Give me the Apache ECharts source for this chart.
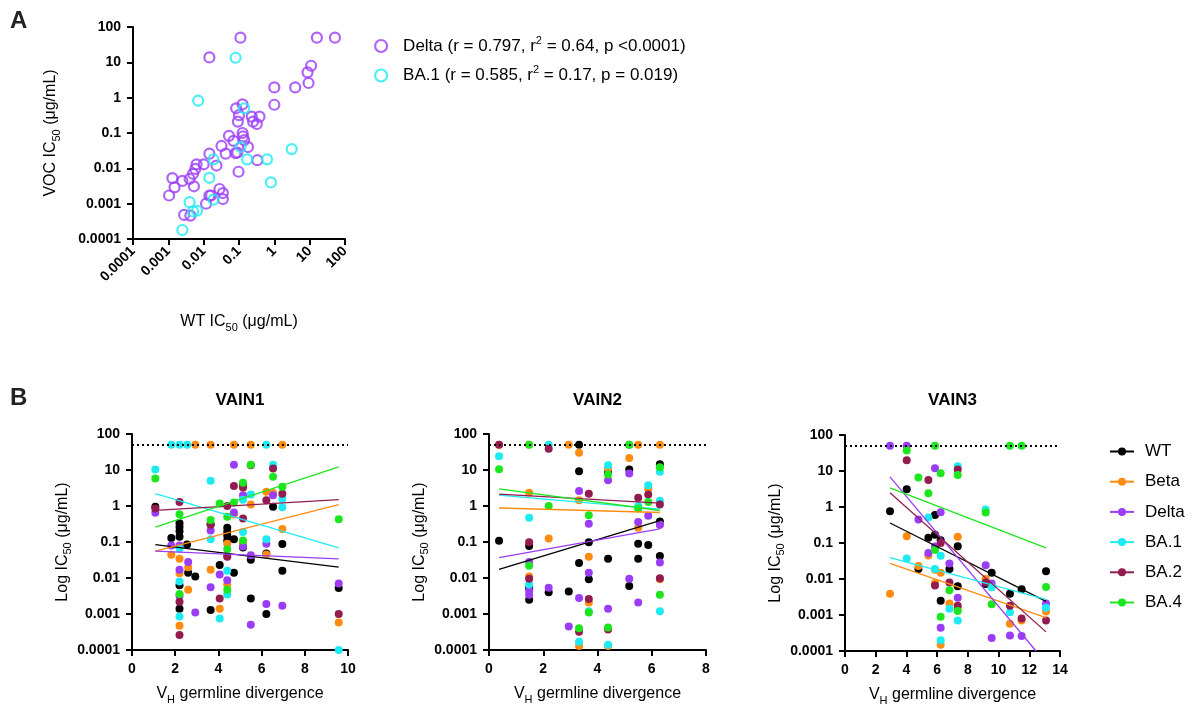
<!DOCTYPE html>
<html>
<head>
<meta charset="utf-8">
<script src="https://cdn.jsdelivr.net/npm/echarts@6/dist/echarts.min.js"></script>
<style>
html,body{margin:0;padding:0;background:#fff;}
#chart{width:1193px;height:709px;}
</style>
</head>
<body>
<div id="chart"></div>
<script>
// ---------- Panel A data: [WT IC50, VOC IC50] ----------
const panelA_Delta = [
  [0.11,50],[16,50],[52,50],[0.0145,13.8],[11,8],[8.7,5.2],[9.3,2.6],[1.0,1.95],[3.9,1.95],
  [1.0,0.63],[0.126,0.65],[0.083,0.5],[0.1,0.32],[0.093,0.21],[0.23,0.29],[0.38,0.29],[0.25,0.21],
  [0.32,0.18],[0.126,0.1],[0.13,0.08],[0.14,0.063],[0.052,0.083],[0.07,0.06],[0.032,0.043],
  [0.042,0.026],[0.08,0.027],[0.09,0.028],[0.18,0.04],[0.33,0.017],[0.097,0.008],[0.0145,0.026],
  [0.023,0.012],[0.01,0.013],[0.0063,0.013],[0.0058,0.0096],[0.005,0.007],[0.004,0.005],
  [0.0025,0.0044],[0.0013,0.0053],[0.0015,0.0029],[0.00105,0.0017],[0.0053,0.0031],
  [0.0028,0.00048],[0.0042,0.00046],[0.0117,0.001],[0.0162,0.0017],[0.028,0.0026],
  [0.035,0.002],[0.035,0.00135],[0.0145,0.0017]
];
const panelA_BA1 = [
  [0.08,13.5],[0.007,0.82],[0.14,0.5],[3.1,0.035],[0.62,0.018],[0.17,0.018],[0.11,0.04],
  [0.019,0.018],[0.0145,0.0054],[0.8,0.004],[0.004,0.0011],[0.0065,0.00063],[0.005,0.0006],
  [0.019,0.0013],[0.0025,0.00018]
];
const panelA_legend = ['Delta (r = 0.797, r|2| = 0.64, p <0.0001)', 'BA.1 (r = 0.585, r|2| = 0.17, p = 0.019)'];

// ---------- Panel B data: [VH germline divergence, IC50] ----------
const variants = ['WT','Beta','Delta','BA.1','BA.2','BA.4'];
const panelTitles = ['VAIN1','VAIN2','VAIN3'];
const xMaxima = [10, 8, 14];
const logTicks = [0.0001, 0.001, 0.01, 0.1, 1, 10, 100];
const cutoff = 50;

const vain1_WT = [[1.08,0.95],[1.82,0.13],[2.2,0.33],[2.2,0.26],[2.2,0.2],[2.2,0.14],[2.2,0.0063],[2.2,0.0014],[2.55,0.085],[2.6,0.014],[2.93,0.011],[3.64,0.31],[3.64,0.0013],[4.06,0.023],[4.41,0.25],[4.41,0.19],[4.41,0.15],[4.41,0.11],[4.72,0.12],[4.72,0.014],[5.14,4.0],[5.14,0.07],[5.5,0.032],[5.5,0.0027],[6.22,0.048],[6.22,0.001],[6.53,0.95],[6.96,0.088],[6.96,0.016],[9.57,0.0053]];
const vain1_Beta = [[1.82,0.044],[2.2,0.034],[2.2,0.0135],[2.2,0.00047],[2.6,0.02],[2.6,0.0047],[2.93,50],[3.64,50],[3.64,0.017],[4.06,0.0014],[4.41,0.09],[4.41,0.0066],[4.72,50],[4.72,0.58],[5.14,3.2],[5.14,0.09],[5.5,50],[5.5,1.1],[6.22,2.5],[6.22,0.045],[6.53,2.3],[6.96,50],[6.96,0.23],[9.57,0.00058]];
const vain1_Delta = [[1.08,0.65],[1.82,0.08],[2.2,0.08],[2.2,0.017],[2.2,0.0032],[2.6,0.028],[2.93,0.0011],[3.64,0.21],[3.64,0.0055],[4.06,0.0126],[4.41,0.0087],[4.41,0.04],[4.72,14],[4.72,0.66],[5.14,2.0],[5.14,0.075],[5.5,0.043],[5.5,0.0005],[6.22,0.09],[6.22,0.0019],[6.53,2.0],[6.96,0.0017],[9.57,0.007]];
const vain1_BA1 = [[1.08,10.3],[1.82,50],[2.2,50],[2.2,0.066],[2.2,0.008],[2.2,0.00085],[2.56,50],[3.64,5.0],[3.64,0.12],[4.06,0.00075],[4.41,0.016],[4.41,0.0035],[5.14,1.5],[5.14,0.19],[5.5,2.1],[6.22,50],[6.22,0.12],[6.53,14],[6.96,1.6],[6.96,0.92],[9.57,0.0001]];
const vain1_BA2 = [[1.08,0.85],[2.2,1.3],[2.2,0.0022],[2.2,0.00026],[3.64,0.3],[4.06,0.0027],[4.41,1.0],[4.41,0.039],[4.72,3.6],[5.14,3.3],[5.14,0.45],[5.5,13.5],[6.22,1.45],[6.53,11],[6.96,2.2],[9.57,0.001]];
const vain1_BA4 = [[1.08,5.8],[2.2,0.59],[2.2,0.0036],[3.64,0.41],[4.06,1.17],[4.41,0.5],[4.41,0.063],[4.41,0.0047],[4.72,1.25],[5.14,4.4],[5.14,0.11],[5.5,14],[6.53,6.5],[6.96,3.4],[9.57,0.43]];

const vain2_WT = [[0.37,0.108],[1.48,0.078],[1.48,0.0052],[1.48,0.0025],[2.2,0.004],[2.94,0.0042],[3.32,50],[3.32,9.3],[3.32,0.026],[3.68,0.098],[3.68,0.0093],[4.39,8.5],[4.39,0.034],[5.17,10.3],[5.17,0.006],[5.5,0.09],[5.5,0.034],[5.87,0.083],[6.3,14.5],[6.3,0.37],[6.3,0.041]];
const vain2_Beta = [[0.37,50],[1.48,50],[1.48,2.35],[1.48,0.011],[2.2,0.126],[2.94,50],[3.32,30],[3.32,1.45],[3.32,0.00013],[3.68,0.039],[3.68,0.0021],[4.39,11],[4.39,0.00013],[5.17,50],[5.17,21.6],[5.5,50],[5.5,0.25],[5.87,3.0],[6.3,50],[6.3,0.3],[6.3,0.0093]];
const vain2_Delta = [[1.48,0.028],[1.48,0.0045],[1.48,0.0034],[2.2,0.0054],[2.94,0.00045],[3.32,2.6],[3.32,0.0028],[3.68,0.32],[3.68,0.014],[4.39,5.2],[4.39,0.0014],[5.17,8],[5.17,0.0095],[5.5,0.36],[5.5,0.0021],[5.87,0.54],[6.3,0.3],[6.3,0.027]];
const vain2_BA1 = [[0.37,24],[1.48,0.47],[1.48,0.0066],[2.2,50],[3.32,0.00017],[3.68,0.0012],[4.39,13.5],[4.39,0.00014],[5.17,50],[5.5,1.0],[5.87,3.8],[6.3,9],[6.3,1.4],[6.3,0.0012]];
const vain2_BA2 = [[0.37,50],[1.48,0.098],[1.48,0.0095],[2.2,39],[3.32,0.00032],[3.68,2.2],[3.68,0.0026],[4.39,0.00037],[5.5,1.7],[5.87,2.1],[6.3,1.1],[6.3,0.0098]];
const vain2_BA4 = [[0.37,10.5],[1.48,50],[1.48,0.022],[2.2,1.0],[3.32,0.0004],[3.68,0.55],[3.68,0.0011],[4.39,7.5],[4.39,0.00042],[5.17,50],[5.5,0.85],[5.87,1.3],[6.3,12],[6.3,0.0034]];

const vain3_WT = [[2.93,0.76],[4.02,3.1],[4.78,0.019],[5.43,0.14],[5.86,0.6],[5.86,0.17],[6.23,0.12],[6.23,0.0025],[6.8,0.019],[7.34,0.081],[7.34,0.0063],[9.16,0.0073],[9.55,0.015],[10.74,0.0039],[11.5,0.0052],[13.09,0.0165]];
const vain3_Beta = [[2.93,0.0039],[4.02,0.155],[4.78,0.023],[5.43,0.045],[5.86,0.018],[5.86,0.0078],[6.23,0.015],[6.23,0.00015],[6.8,0.0021],[7.34,0.15],[7.34,0.0015],[9.16,0.01],[9.55,0.0065],[10.74,0.00057],[11.5,0.0007],[13.09,0.00126]];
const vain3_Delta = [[2.93,50],[4.02,50],[4.78,0.45],[5.43,0.053],[5.86,12],[5.86,0.08],[6.23,0.71],[6.23,0.00044],[6.8,0.027],[7.34,0.003],[9.16,0.024],[9.55,0.0075],[9.55,0.00023],[10.74,0.00027],[11.5,0.00026],[13.09,0.0021]];
const vain3_BA1 = [[4.02,0.037],[5.43,0.51],[5.86,0.019],[6.23,0.044],[6.23,0.0002],[6.8,0.0015],[7.34,13.6],[7.34,0.0007],[9.16,0.85],[9.55,0.0059],[10.74,0.0012],[13.09,0.0016]];
const vain3_BA2 = [[4.02,20],[5.43,5.6],[5.86,0.0066],[6.23,0.1],[6.8,0.008],[7.34,11],[7.34,0.0018],[9.16,0.008],[10.74,0.0018],[11.5,0.0008],[13.09,0.0007]];
const vain3_BA4 = [[4.02,37],[4.78,6.6],[5.43,2.4],[5.86,50],[5.86,0.064],[6.23,8.6],[6.23,0.0009],[6.8,0.0049],[7.34,7.7],[7.34,0.0013],[9.16,0.7],[9.55,0.002],[10.74,50],[11.5,50],[13.09,0.006]];

// regression line end points [x, IC50]
const fit1_WT = [[1.08,0.085],[9.57,0.02]];
const fit1_Beta = [[1.08,0.056],[9.57,1.1]];
const fit1_Delta = [[1.08,0.056],[9.57,0.034]];
const fit1_BA1 = [[1.08,2.2],[9.57,0.069]];
const fit1_BA2 = [[1.08,0.76],[9.57,1.5]];
const fit1_BA4 = [[1.08,0.26],[9.57,12.2]];

const fit2_WT = [[0.37,0.0174],[6.3,0.39]];
const fit2_Beta = [[0.37,0.88],[6.3,0.66]];
const fit2_Delta = [[0.37,0.037],[6.3,0.23]];
const fit2_BA1 = [[0.37,2.0],[6.3,0.82]];
const fit2_BA2 = [[0.37,2.15],[6.3,1.2]];
const fit2_BA4 = [[0.37,3.0],[6.3,0.75]];

const fit3_WT = [[2.93,0.36],[13.09,0.0024]];
const fit3_Beta = [[2.93,0.027],[13.09,0.00085]];
const fit3_Delta = [[2.93,6.9],[12.44,0.0001]];
const fit3_BA1 = [[2.93,0.039],[13.09,0.0027]];
const fit3_BA2 = [[2.93,2.5],[13.09,0.00034]];
const fit3_BA4 = [[2.93,3.4],[13.09,0.073]];

const panelPoints = [
  [vain1_WT, vain1_Beta, vain1_Delta, vain1_BA1, vain1_BA2, vain1_BA4],
  [vain2_WT, vain2_Beta, vain2_Delta, vain2_BA1, vain2_BA2, vain2_BA4],
  [vain3_WT, vain3_Beta, vain3_Delta, vain3_BA1, vain3_BA2, vain3_BA4]
];
const panelFits = [
  [fit1_WT, fit1_Beta, fit1_Delta, fit1_BA1, fit1_BA2, fit1_BA4],
  [fit2_WT, fit2_Beta, fit2_Delta, fit2_BA1, fit2_BA2, fit2_BA4],
  [fit3_WT, fit3_Beta, fit3_Delta, fit3_BA1, fit3_BA2, fit3_BA4]
];

// ---------- styling ----------
const FONT = "'Liberation Sans', Arial, Helvetica, sans-serif";
const COLORS = {'WT':'#000000','Beta':'#FF8C10','Delta':'#9B3DF7','BA.1':'#1CEBF2','BA.2':'#921C4F','BA.4':'#1EE61E'};

function logLabel(v){
  const e = Math.round(Math.log10(v));
  if (e >= 0) return String(Math.pow(10, e));
  return '0.' + '0'.repeat(-e - 1) + '1';
}
const nameRich = {
  t: {fontSize: 16, fontFamily: FONT, color: '#000', lineHeight: 22},
  s: {fontSize: 11, fontFamily: FONT, color: '#000', lineHeight: 10, verticalAlign: 'bottom'}
};
function baseAxis(){
  return {
    axisLine: {show: true, onZero: false, lineStyle: {color: '#000', width: 2}},
    axisTick: {show: true, length: 6, lineStyle: {color: '#000', width: 2}},
    splitLine: {show: false},
    minorTick: {show: false},
    axisLabel: {color: '#000', fontWeight: 'bold', fontSize: 14, fontFamily: FONT, margin: 12},
    nameTextStyle: {rich: nameRich, color: '#000'},
    nameLocation: 'middle'
  };
}
function logAxis(extra){
  const a = baseAxis();
  a.type = 'log'; a.logBase = 10; a.min = logTicks[0]; a.max = logTicks[logTicks.length - 1];
  a.axisLabel.formatter = logLabel;
  return Object.assign(a, extra);
}

const grids = [
  {left: 133, top: 27, width: 212, height: 212},
  {left: 132, top: 434, width: 216, height: 216},
  {left: 489, top: 434, width: 217, height: 216},
  {left: 845, top: 435, width: 215, height: 216}
];

const xAxes = [];
const yAxes = [];
// Panel A
{
  const xa = logAxis({gridIndex: 0, name: '{t|WT IC}{s|50}{t| (μg/mL)}', nameGap: 72});
  xa.axisLabel.rotate = 45; xa.axisLabel.margin = 10;
  xAxes.push(xa);
  yAxes.push(logAxis({gridIndex: 0, name: '{t|VOC IC}{s|50}{t| (μg/mL)}', nameGap: 71}));
}
for (let p = 0; p < 3; p++) {
  const xa = baseAxis();
  Object.assign(xa, {type: 'value', gridIndex: p + 1, min: 0, max: xMaxima[p], interval: 2,
    name: '{t|V}{s|H}{t| germline divergence}', nameGap: 33});
  xAxes.push(xa);
  yAxes.push(logAxis({gridIndex: p + 1, name: '{t|Log IC}{s|50}{t| (μg/mL)}', nameGap: 57}));
}

const series = [];
// regression lines first (legend icons come from these)
for (let p = 0; p < 3; p++) {
  variants.forEach((v, i) => {
    series.push({
      type: 'line', name: v, xAxisIndex: p + 1, yAxisIndex: p + 1,
      data: panelFits[p][i], symbol: 'circle', symbolSize: 8, showSymbol: false,
      lineStyle: {color: COLORS[v], width: 1.3}, itemStyle: {color: COLORS[v]},
      silent: true, z: 3, clip: true, animation: false
    });
  });
}
for (let p = 0; p < 3; p++) {
  variants.forEach((v, i) => {
    const s = {
      type: 'scatter', name: v, xAxisIndex: p + 1, yAxisIndex: p + 1,
      data: panelPoints[p][i], symbol: 'circle', symbolSize: 8,
      itemStyle: {color: COLORS[v], opacity: 1}, silent: true, clip: false, z: 2, animation: false
    };
    if (i === 0) {
      s.markLine = {silent: true, symbol: 'none', animation: false, label: {show: false},
        lineStyle: {color: '#000', type: [2, 3], width: 2}, data: [{yAxis: cutoff}]};
    }
    series.push(s);
  });
}
series.push({
  type: 'scatter', name: 'A_Delta', xAxisIndex: 0, yAxisIndex: 0, data: panelA_Delta,
  symbol: 'circle', symbolSize: 10, clip: false, silent: true, animation: false,
  itemStyle: {color: 'rgba(255,255,255,0)', borderColor: COLORS['Delta'], borderWidth: 2.2}
});
series.push({
  type: 'scatter', name: 'A_BA1', xAxisIndex: 0, yAxisIndex: 0, data: panelA_BA1,
  symbol: 'circle', symbolSize: 10, clip: false, silent: true, animation: false,
  itemStyle: {color: 'rgba(255,255,255,0)', borderColor: COLORS['BA.1'], borderWidth: 2.2}
});

function legendA(name){
  const txt = name === 'A_Delta' ? panelA_legend[0] : panelA_legend[1];
  const parts = txt.split('|');
  return '{t|' + parts[0] + '}{sup|' + parts[1] + '}{t|' + parts[2] + '}';
}

const graphics = [
  {type: 'text', x: 10, y: 9, style: {text: 'A', fontSize: 24, fontWeight: 'bold', fontFamily: FONT, fill: '#222'}},
  {type: 'text', x: 10, y: 386, style: {text: 'B', fontSize: 24, fontWeight: 'bold', fontFamily: FONT, fill: '#222'}}
];
panelTitles.forEach((t, p) => {
  const g = grids[p + 1];
  graphics.push({type: 'text', x: g.left + g.width / 2, y: 400,
    style: {text: t, fontSize: 17, fontWeight: 'bold', fontFamily: FONT, fill: '#000', align: 'center', verticalAlign: 'middle'}});
});

const option = {
  backgroundColor: '#fff',
  animation: false,
  grid: grids,
  xAxis: xAxes,
  yAxis: yAxes,
  series: series,
  graphic: graphics,
  legend: [
    {
      left: 369, top: 30, orient: 'vertical', itemWidth: 12, itemHeight: 12, itemGap: 10,
      selectedMode: false,
      data: [
        {name: 'A_Delta', icon: 'circle', itemStyle: {color: '#fff', borderColor: COLORS['Delta'], borderWidth: 2.2}},
        {name: 'A_BA1', icon: 'circle', itemStyle: {color: '#fff', borderColor: COLORS['BA.1'], borderWidth: 2.2}}
      ],
      formatter: legendA,
      textStyle: {
        padding: [0, 0, 0, 11],
        rich: {
          t: {fontSize: 17, fontFamily: FONT, color: '#000', lineHeight: 22},
          sup: {fontSize: 11, fontFamily: FONT, color: '#000', lineHeight: 10, verticalAlign: 'top'}
        }
      }
    },
    {
      left: 1104, top: 438, orient: 'vertical', itemWidth: 24, itemHeight: 10, itemGap: 13.2,
      selectedMode: false,
      data: variants,
      textStyle: {fontSize: 17, fontFamily: FONT, color: '#000', padding: [0, 0, 0, 6]}
    }
  ]
};

const chart = echarts.init(document.getElementById('chart'), null, {renderer: 'canvas'});
chart.setOption(option);
</script>
</body>
</html>
